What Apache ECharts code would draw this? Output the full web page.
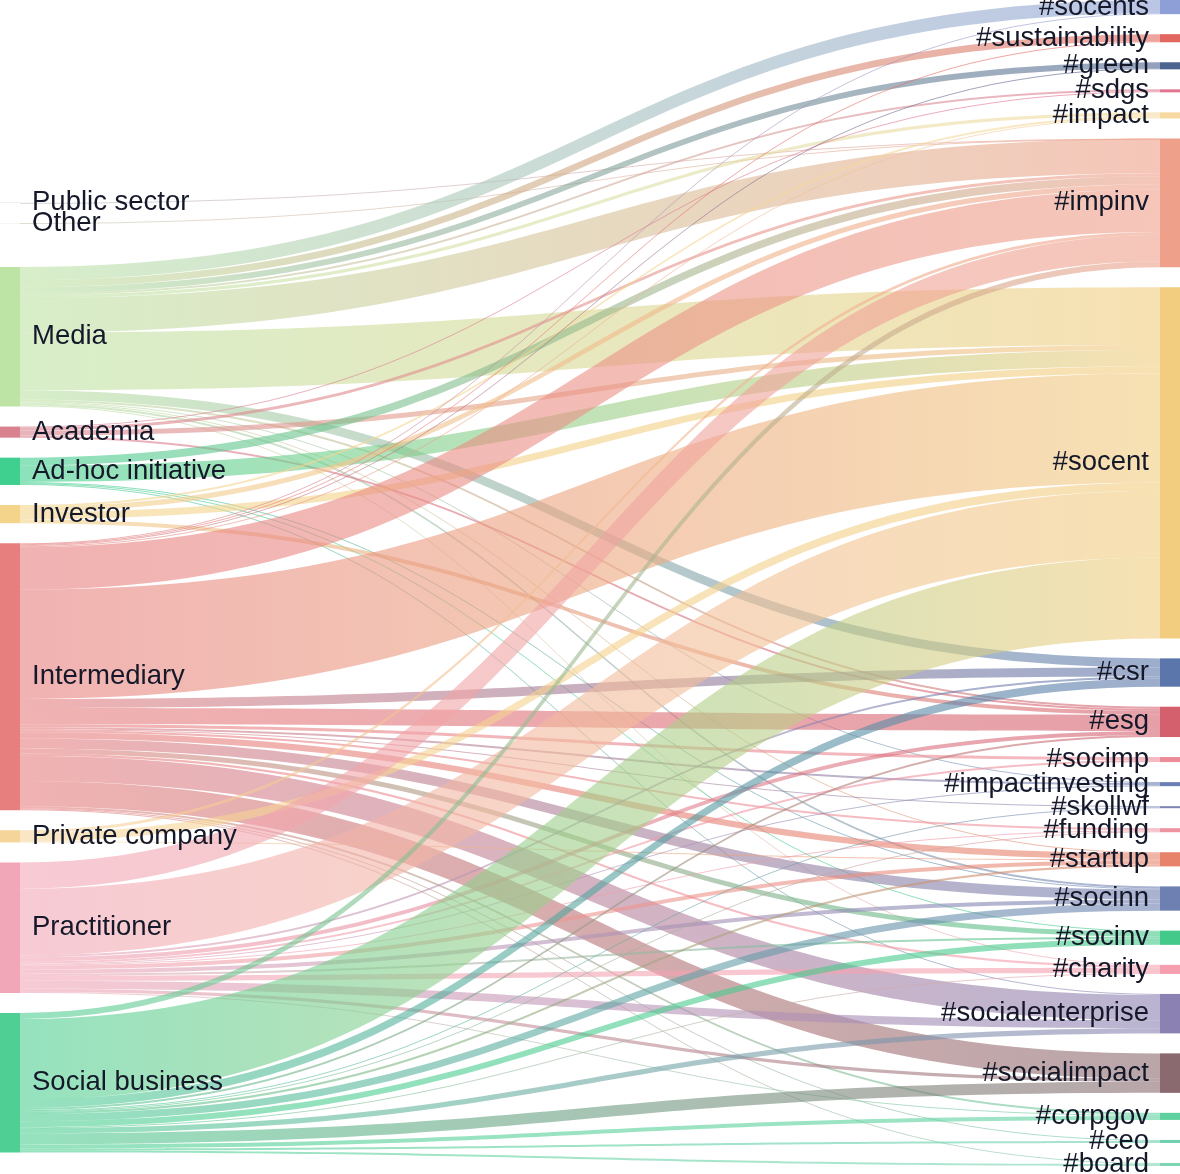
<!DOCTYPE html>
<html><head><meta charset="utf-8">
<script src="https://cdn.jsdelivr.net/npm/echarts@6/dist/echarts.min.js"></script>
<style>html,body{margin:0;padding:0;background:#fff;overflow:hidden}#c{width:1180px;height:1174px}</style>
</head><body><div id="c"></div>
<script>
// ---------- DATA ----------
const leftNodes = ['Public sector','Other','Media','Academia','Ad-hoc initiative','Investor','Intermediary','Private company','Practitioner','Social business'];
const rightNodes = ['#socents','#sustainability','#green','#sdgs','#impact','#impinv','#socent','#csr','#esg','#socimp','#impactinvesting','#skollwf','#funding','#startup','#socinn','#socinv','#charity','#socialenterprise','#socialimpact','#corpgov','#ceo','#board'];

const fromPublicSector = [['#impinv',0.2]];
const fromOther = [['#impinv',0.2]];
const fromMedia = [['#socents',13],['#sustainability',7],['#green',6],['#sdgs',2],['#impact',3],['#impinv',34],['#socent',57],['#csr',9],['#esg',2],['#impactinvesting',1],['#startup',1],['#socinn',2],['#charity',1]];
const fromAcademia = [['#sdgs',1],['#impinv',3],['#socent',5],['#esg',2]];
const fromAdhoc = [['#impinv',8],['#socent',16],['#socinn',1],['#socinv',1],['#socialenterprise',1]];
const fromInvestor = [['#impact',2],['#impinv',5],['#socent',7],['#esg',4]];
const fromIntermediary = [['#socents',1],['#sustainability',1],['#green',1],['#impact',1],['#impinv',42],['#socent',108],['#csr',9],['#esg',16],['#socimp',3],['#impactinvesting',2],['#skollwf',1],['#funding',2],['#startup',6],['#socinn',10],['#socinv',5],['#charity',2],['#socialenterprise',25],['#socialimpact',25],['#corpgov',2],['#ceo',1],['#board',1]];
const fromPrivate = [['#impinv',3],['#socent',8],['#startup',1]];
const fromPractitioner = [['#impinv',26],['#socent',66],['#csr',2],['#esg',4],['#socimp',2],['#impactinvesting',1],['#funding',1],['#startup',4],['#socinn',4],['#socinv',2],['#charity',5],['#socialenterprise',8],['#socialimpact',3],['#corpgov',1]];
const fromSocial = [['#impinv',6],['#socent',80],['#csr',8],['#esg',2],['#skollwf',1],['#funding',1],['#startup',2],['#socinn',7],['#socinv',6],['#charity',1],['#socialenterprise',5],['#socialimpact',11],['#corpgov',4],['#ceo',2],['#board',2]];

// ---------- STYLE ----------
const leftColors = ['#b9b9c9','#c9c9b9','#bde3a5','#d9818f','#3fcf8e','#f3d48a','#e77f7f','#f6d59a','#f2a7b8','#4fcf93'];
const rightColors = ['#8d9fd6','#e2675e','#4d6390','#e07590','#f6d9a0','#eea08a','#f2cd80','#5b76ab','#d4606e','#ec8c98','#6c7fb5','#7d86b5','#ee94a2','#e7836a','#6e7fb2','#43c98a','#f59fae','#8b82b3','#8a6a6f','#5fd1a0','#6fd0b0','#7fd6b5'];

const H = 1166, GAP = 20, NODE_W = 20;
const linkSets = [fromPublicSector, fromOther, fromMedia, fromAcademia, fromAdhoc, fromInvestor, fromIntermediary, fromPrivate, fromPractitioner, fromSocial];
const links = [];
leftNodes.forEach((s, i) => linkSets[i].forEach(([t, v]) => links.push({source: s, target: t, value: v})));

// node totals
const val = {};
links.forEach(l => { val[l.source] = (val[l.source] || 0) + l.value; val[l.target] = (val[l.target] || 0) + l.value; });
const sumL = leftNodes.reduce((a, n) => a + val[n], 0);
const sumR = rightNodes.reduce((a, n) => a + val[n], 0);
const ky = Math.min((H - (rightNodes.length - 1) * GAP) / sumR, (H - (leftNodes.length - 1) * GAP) / sumL);

// right column stacked in given order; left column placed at weighted centre of its targets (order kept)
const rc = {};
let yy = 0;
rightNodes.forEach(n => { const h = val[n] * ky; rc[n] = yy + h / 2; yy += h + GAP; });
const lh = leftNodes.map(n => val[n] * ky);
const ideal = leftNodes.map((n, i) => {
  let s = 0, w = 0;
  links.filter(l => l.source === n).forEach(l => { s += l.value * rc[l.target]; w += l.value; });
  return s / w - lh[i] / 2;
});
const ly = [];
yy = 0;
for (let i = 0; i < leftNodes.length; i++) { ly[i] = Math.max(ideal[i], yy); yy = ly[i] + lh[i] + GAP; }
if (yy - GAP > H) {
  let bottom = H;
  for (let i = leftNodes.length - 1; i >= 0; i--) { if (ly[i] + lh[i] > bottom) ly[i] = bottom - lh[i]; bottom = ly[i] - GAP; }
}

const labelFont = {fontSize: 27.5, color: '#141829', fontFamily: 'Arial, "Liberation Sans", sans-serif'};
const nodes = [];
leftNodes.forEach((n, i) => nodes.push({
  name: n, localY: ly[i] / H,
  itemStyle: {color: leftColors[i]},
  label: Object.assign({position: 'right', distance: 12}, labelFont)
}));
rightNodes.forEach((n, i) => nodes.push({
  name: n,
  itemStyle: {color: rightColors[i]},
  label: Object.assign({position: 'left', distance: 11}, labelFont)
}));

const chart = echarts.init(document.getElementById('c'), null, {renderer: 'canvas'});
chart.setOption({
  animation: false,
  series: [{
    type: 'sankey',
    left: 0, top: 0, width: 1180, height: H,
    nodeWidth: NODE_W, nodeGap: GAP,
    layoutIterations: 0,
    draggable: false,
    emphasis: {disabled: true},
    data: nodes,
    links: links,
    itemStyle: {borderWidth: 0},
    lineStyle: {color: 'gradient', opacity: 0.6, curveness: 0.5},
    label: labelFont
  }]
});
</script></body></html>
